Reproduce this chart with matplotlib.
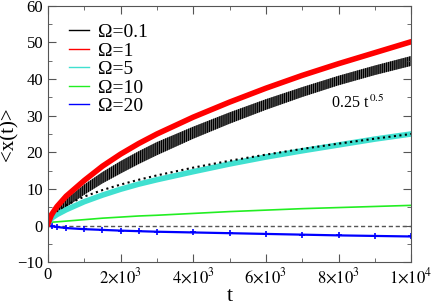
import matplotlib
matplotlib.use("Agg")
from matplotlib import pyplot as plt
from matplotlib.lines import Line2D
from matplotlib.ticker import MultipleLocator, FuncFormatter

plt.rcParams['font.family'] = ['Liberation Serif', 'DejaVu Serif']
plt.rcParams['mathtext.fontset'] = 'stix'
plt.rcParams['hatch.linewidth'] = 0.9

# time samples
t = [0, 100, 250, 500, 1000, 1500, 2000, 2500, 3000, 4000, 5000, 6000, 7000, 8000, 9000, 10000]

# Omega = 0.1 : oscillating band, lower / upper envelope
w01_lo = [0.5, 1.8, 3.2, 5.0, 8.4, 11.5, 14.2, 16.8, 19.2, 23.7, 27.8, 31.6, 35.1, 38.3, 41.1, 43.6]
w01_hi = [1.0, 2.8, 4.8, 7.2, 11.2, 14.6, 17.6, 20.3, 22.8, 27.0, 30.9, 34.5, 37.8, 40.9, 43.7, 46.3]
# Omega = 1
w1 = [0.5, 3.0, 5.2, 8.0, 12.3, 16.2, 19.5, 22.4, 25.0, 29.6, 33.7, 37.5, 41.0, 44.2, 47.2, 50.2]
# Omega = 5
w5 = [0.5, 2.0, 3.0, 4.3, 6.5, 8.3, 9.9, 11.3, 12.5, 14.7, 16.8, 18.7, 20.4, 22.0, 23.6, 25.0]
# 0.25 t^0.5 guide
fit = [0.0, 2.5, 3.95, 5.59, 7.91, 9.68, 11.18, 12.5, 13.69, 15.81, 17.68, 19.36, 20.92, 22.36, 23.72, 25.0]
# Omega = 10
w10 = [0.8, 0.9, 1.0, 1.2, 1.6, 2.0, 2.3, 2.6, 2.8, 3.3, 3.8, 4.2, 4.6, 4.9, 5.2, 5.5]
# Omega = 20
w20 = [0.0, -0.2, -0.4, -0.7, -1.0, -1.2, -1.4, -1.55, -1.7, -1.9, -2.1, -2.3, -2.5, -2.7, -2.85, -3.0]

labels = ['\u03a9=0.1', '\u03a9=1', '\u03a9=5', '\u03a9=10', '\u03a9=20']
colors = ['black', 'red', '#40e0d0', '#22ee22', 'blue']

fig = plt.figure(figsize=(4.36, 3.08), dpi=100)
ax = fig.add_axes([0.110, 0.149, 0.833, 0.832])

ax.plot([0, 10000], [0, 0], color='#555555', lw=1, dashes=(3, 2))
ax.plot(t, w20, color='blue', lw=1.6, marker='+', ms=5, mew=1.2)
ax.plot(t, w10, color=colors[3], lw=1.2)
ax.plot(t, w5, color=colors[2], lw=4)
ax.plot(t, fit, color='black', ls=':', lw=1.5)
ax.fill_between(t, w01_lo, w01_hi, facecolor='#777777', edgecolor='black',
                hatch='||||||||', lw=0)
ax.plot(t, w1, color='red', lw=4)

ax.text(7800, 32.0, r'0.25 t$^{\,0.5}$', fontsize=11.5)

ax.set_xlim(0, 10000)
ax.set_ylim(-10, 60)
ax.xaxis.set_major_locator(MultipleLocator(2000))
ax.xaxis.set_minor_locator(MultipleLocator(1000))
ax.yaxis.set_major_locator(MultipleLocator(10))
ax.yaxis.set_minor_locator(MultipleLocator(5))


def sci(v, pos):
    if v == 0:
        return '0'
    e = len(str(int(v))) - 1
    m = int(v / 10 ** e)
    return r'$%d{\times}10^{%d}$' % (m, e)


ax.xaxis.set_major_formatter(FuncFormatter(sci))
ax.tick_params(axis='both', which='both', direction='in', top=True, right=True,
               labelsize=12, color='#555555')
ax.tick_params(which='major', length=6)
ax.tick_params(which='minor', length=3)
for s in ax.spines.values():
    s.set_color('#555555')

ax.set_xlabel('t', fontsize=16, labelpad=0)
ax.set_ylabel('<x(t)>', fontsize=15, labelpad=-1)

handles = [Line2D([0], [0], color=c, lw=1) for c in colors]
ax.legend(handles, labels, loc='upper left', frameon=False, fontsize=14,
          handlelength=1.0, handletextpad=0.5, labelspacing=0.05,
          bbox_to_anchor=(0.01, 1.0))

plt.savefig('out.png', dpi=100)
